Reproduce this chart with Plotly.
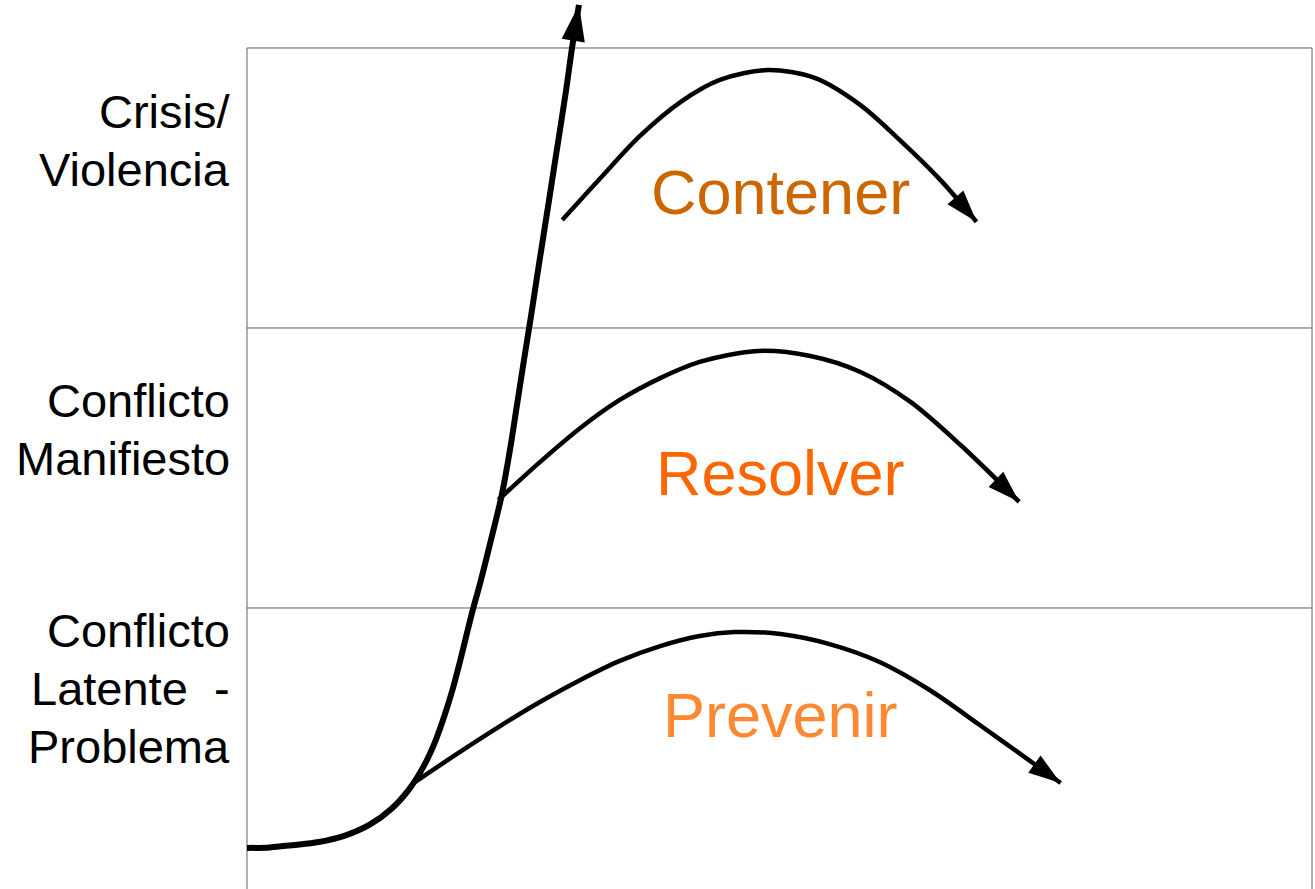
import plotly.graph_objects as go

# ---- data (time units 0..10 across box, conflict level 0..3) ----
escalation_x = [0.000, 0.216, 0.423, 0.674, 0.920, 1.152, 1.357, 1.527, 1.661, 1.768,
                1.854, 1.929, 1.994, 2.055, 2.116, 2.197, 2.300, 2.394, 2.469, 2.535,
                2.601, 2.667, 2.732, 2.798, 2.864, 2.930, 2.995, 3.052, 3.117]
escalation_y = [0.143, 0.145, 0.153, 0.164, 0.187, 0.226, 0.283, 0.355, 0.436, 0.524,
                0.615, 0.707, 0.800, 0.894, 0.987, 1.100, 1.257, 1.407, 1.564, 1.725,
                1.886, 2.043, 2.204, 2.364, 2.525, 2.686, 2.846, 3.000, 3.154]

contener_x = [2.96, 3.32, 3.69, 4.07, 4.44, 4.89, 5.33, 5.76, 6.13, 6.51, 6.85]
contener_y = [2.386, 2.536, 2.686, 2.807, 2.886, 2.921, 2.893, 2.796, 2.671, 2.529, 2.379]

resolver_x = [2.36, 2.75, 3.13, 3.50, 3.88, 4.25, 4.80, 5.29, 5.76, 6.23, 6.70, 7.25]
resolver_y = [1.386, 1.521, 1.643, 1.743, 1.821, 1.879, 1.918, 1.900, 1.843, 1.736, 1.582, 1.379]

prevenir_x = [1.58, 2.00, 2.38, 2.75, 3.13, 3.50, 3.88, 4.25, 4.58, 5.01, 5.47, 5.94,
              6.41, 6.88, 7.26, 7.64]
prevenir_y = [0.379, 0.486, 0.579, 0.664, 0.743, 0.811, 0.864, 0.900, 0.914, 0.907,
              0.871, 0.807, 0.707, 0.582, 0.479, 0.375]

level_labels = [["Crisis/", "Violencia"],
                ["Conflicto", "Manifiesto"],
                ["Conflicto", "Latente  -", "Problema"]]
level_label_y = [2.668, 1.639, 0.714]   # centre of each label block
LINE_STEP = 0.207                       # one text line, in level units

action_labels = ["Contener", "Resolver", "Prevenir"]
action_label_y = [2.486, 1.482, 0.618]
action_colors = ["#CC6600", "#FF6600", "#FF8833"]

band_edges = [0, 1, 2, 3]

FONT = "Arial, Liberation Sans, sans-serif"

fig = go.Figure()

def arrow_line(xs, ys, width, size, smoothing):
    n = len(xs)
    return go.Scatter(
        x=xs, y=ys, mode="lines+markers",
        line=dict(color="black", width=width, shape="spline", smoothing=smoothing),
        marker=dict(symbol="arrow", angleref="previous", opacity=1,
                    size=[0] * (n - 1) + [size], color="black",
                    line=dict(width=0, color="black")),
        opacity=1,
        hoverinfo="skip", showlegend=False, cliponaxis=False,
    )

fig.add_trace(arrow_line(escalation_x, escalation_y, 6, 38, 1.0))
fig.add_trace(arrow_line(contener_x, contener_y, 4.5, 34, 0.9))
fig.add_trace(arrow_line(resolver_x, resolver_y, 4.5, 34, 0.9))
fig.add_trace(arrow_line(prevenir_x, prevenir_y, 4.5, 34, 0.9))

# box and band separators
line_style = dict(color="#606060", width=1)
for yv in band_edges[1:]:
    fig.add_shape(type="line", x0=0, x1=10, y0=yv, y1=yv, line=line_style, layer="below")
fig.add_shape(type="line", x0=0, x1=0, y0=-0.1, y1=3, line=line_style, layer="below")
fig.add_shape(type="line", x0=10, x1=10, y0=-0.1, y1=3, line=line_style, layer="below")

for lines, yc in zip(level_labels, level_label_y):
    n = len(lines)
    for i, txt in enumerate(lines):
        yv = yc + LINE_STEP * ((n - 1) / 2 - i)
        fig.add_annotation(x=-0.141, y=yv, text=txt, showarrow=False,
                           xanchor="right", yanchor="middle", align="right",
                           font=dict(family=FONT, size=47, color="black"))

for txt, yv, c in zip(action_labels, action_label_y, action_colors):
    fig.add_annotation(x=5.005, y=yv, text=txt, showarrow=False,
                       xanchor="center", yanchor="middle",
                       font=dict(family=FONT, size=63, color=c))

fig.update_layout(
    width=1315, height=889,
    margin=dict(l=0, r=0, t=0, b=0),
    paper_bgcolor="white", plot_bgcolor="white",
    xaxis=dict(range=[-2.319, 10.028], visible=False, fixedrange=True),
    yaxis=dict(range=[-0.0036, 3.1714], visible=False, fixedrange=True),
    showlegend=False,
)

fig.write_html("out.html", config={"displayModeBar": False},
               post_script="document.body.style.margin='0';document.body.style.overflow='hidden';")
